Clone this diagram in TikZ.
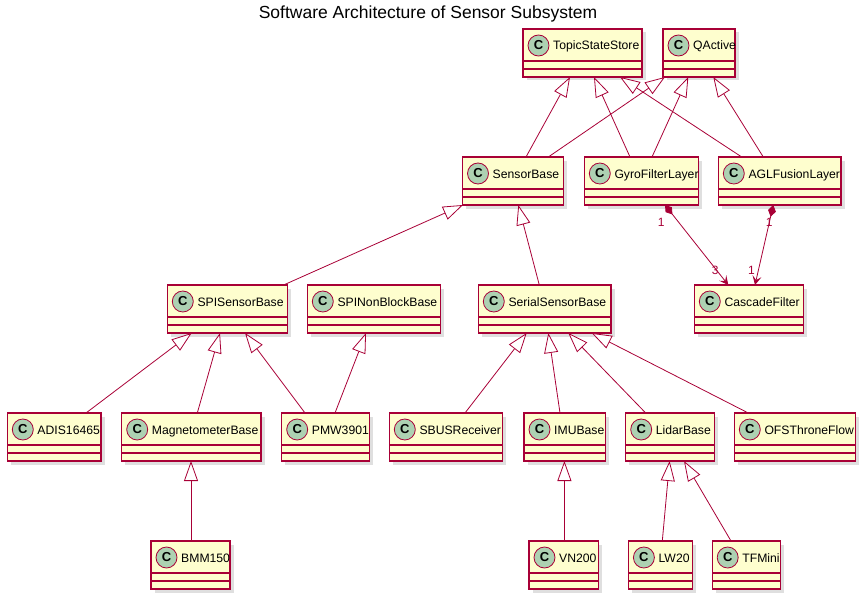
\documentclass[tikz,border=0pt]{standalone}
\usepackage{fontspec}
\setmainfont{Liberation Sans}
\usetikzlibrary{arrows.meta,shadows}
\definecolor{umlborder}{HTML}{A80036}
\definecolor{umlfill}{HTML}{FEFECE}
\definecolor{umlspot}{HTML}{ADD1B2}
\begin{document}
\begin{tikzpicture}
  [x=1pt,y=1pt,
   cls/.style={rectangle,draw=umlborder,fill=umlfill,line width=1.1pt,
               inner sep=0,outer sep=0,minimum height=48pt,anchor=north west,
               drop shadow={shadow xshift=3.5pt,shadow yshift=-3.5pt,fill=black!25,opacity=0.5},
               path picture={
                 \draw[umlborder,line width=1.1pt]
                   ([yshift=-32pt]path picture bounding box.north west) -- ([yshift=-32pt]path picture bounding box.north east)
                   ([yshift=-40pt]path picture bounding box.north west) -- ([yshift=-40pt]path picture bounding box.north east);
                 \node[spot] at ([xshift=15.5pt,yshift=-16.5pt]path picture bounding box.north west) {C};},
               label={[clsname]north west:#1}},
   clsname/.style={anchor=base west,xshift=30pt,yshift=-21pt,inner sep=0,font=\fontsize{12.2}{14}\selectfont},
   spot/.style={circle,anchor=center,draw=umlborder,fill=umlspot,line width=0.8pt,minimum size=21pt,inner sep=0,
                font=\fontsize{13}{14}\bfseries},
   extends/.style={umlborder,line width=0.8pt,-{Triangle[length=20pt,width=14pt,fill=white]}},
   composes/.style={umlborder,line width=0.8pt,{Diamond[length=12pt,width=8pt]}-{Stealth[length=9pt,width=9pt,inset=4pt]}},
   mult/.style={inner sep=0,font=\fontsize{12}{14}\selectfont},
   heading/.style={anchor=base,inner sep=0,font=\fontsize{17.5}{20}\selectfont}]
  \useasboundingbox (0,0) rectangle (868,-602);
  \node[heading] (title) at (428,-19) {Software Architecture of Sensor Subsystem};
  % top layer
  \node[cls=TopicStateStore,minimum width=119pt] (topicstatestore) at (523,-29) {};
  \node[cls=QActive,minimum width=72pt] (qactive) at (663,-29) {};
  \node[cls=SensorBase,minimum width=101pt] (sensorbase) at (462.5,-157) {};
  \node[cls=GyroFilterLayer,minimum width=114pt] (gyrofilterlayer) at (584.3,-157) {};
  \node[cls=AGLFusionLayer,minimum width=122.7pt] (aglfusionlayer) at (718.3,-157) {};
  % bases
  \node[cls=SPISensorBase,minimum width=120pt] (spisensorbase) at (167.3,-285) {};
  \node[cls=SPINonBlockBase,minimum width=133.4pt] (spinonblockbase) at (307.3,-285) {};
  \node[cls=SerialSensorBase,minimum width=132.7pt] (serialsensorbase) at (478.3,-285) {};
  \node[cls=CascadeFilter,minimum width=109pt] (cascadefilter) at (694.3,-285) {};
  % sensors
  \node[cls=ADIS16465,minimum width=93.7pt] (adis16465) at (7.3,-413) {};
  \node[cls=MagnetometerBase,minimum width=139.3pt] (magnetometerbase) at (121.7,-413) {};
  \node[cls=PMW3901,minimum width=87.6pt] (pmw3901) at (281.7,-413) {};
  \node[cls=SBUSReceiver,minimum width=113.4pt] (sbusreceiver) at (389.3,-413) {};
  \node[cls=IMUBase,minimum width=81.7pt] (imubase) at (524,-413) {};
  \node[cls=LidarBase,minimum width=88.6pt] (lidarbase) at (625.7,-413) {};
  \node[cls=OFSThroneFlow,minimum width=121.4pt] (ofsthroneflow) at (734.3,-413) {};
  \node[cls=BMM150,minimum width=79pt] (bmm150) at (151,-541) {};
  \node[cls=VN200,minimum width=69.3pt] (vn200) at (529,-541) {};
  \node[cls=LW20,minimum width=64pt] (lw20) at (628.4,-541) {};
  \node[cls=TFMini,minimum width=68.4pt] (tfmini) at (712.2,-541) {};

  \draw[extends] ([xshift=63.5pt]sensorbase.north west) -- ([xshift=47pt]topicstatestore.south west);
  \draw[extends] ([xshift=85.8pt]sensorbase.north west) -- ([xshift=2pt]qactive.south west);
  \draw[extends] ([xshift=45.7pt]gyrofilterlayer.north west) -- ([xshift=71pt]topicstatestore.south west);
  \draw[extends] ([xshift=67.7pt]gyrofilterlayer.north west) -- ([xshift=25.3pt]qactive.south west);
  \draw[extends] ([xshift=23.4pt]aglfusionlayer.north west) -- ([xshift=97pt]topicstatestore.south west);
  \draw[extends] ([xshift=45pt]aglfusionlayer.north west) -- ([xshift=50.3pt]qactive.south west);
  \draw[extends] ([xshift=116.3pt]spisensorbase.north west) -- ([xshift=0.5pt]sensorbase.south west);
  \draw[extends] ([xshift=61pt]serialsensorbase.north west) -- ([xshift=55.8pt]sensorbase.south west);
  \draw[composes] ([xshift=80.7pt]gyrofilterlayer.south west) -- node[mult,pos=0.22,left=14pt]{1}
    node[mult,pos=0.82,anchor=east,xshift=2pt]{3} ([xshift=34pt]cascadefilter.north west);
  \draw[composes] ([xshift=55pt]aglfusionlayer.south west) -- node[mult,pos=0.22]{1}
    node[mult,pos=0.82,left=3pt]{1} ([xshift=60.7pt]cascadefilter.north west);
  \draw[extends] ([xshift=78.7pt]adis16465.north west) -- ([xshift=24.4pt]spisensorbase.south west);
  \draw[extends] ([xshift=75.6pt]magnetometerbase.north west) -- ([xshift=52.7pt]spisensorbase.south west);
  \draw[extends] ([xshift=23.3pt]pmw3901.north west) -- ([xshift=77.7pt]spisensorbase.south west);
  \draw[extends] ([xshift=53.3pt]pmw3901.north west) -- ([xshift=58.7pt]spinonblockbase.south west);
  \draw[extends] ([xshift=75.7pt]sbusreceiver.north west) -- ([xshift=48.4pt]serialsensorbase.south west);
  \draw[extends] ([xshift=36pt]imubase.north west) -- ([xshift=70pt]serialsensorbase.south west);
  \draw[extends] ([xshift=20pt]lidarbase.north west) -- ([xshift=90pt]serialsensorbase.south west);
  \draw[extends] ([xshift=14pt]ofsthroneflow.north west) -- ([xshift=113.4pt]serialsensorbase.south west);
  \draw[extends] ([xshift=40pt]bmm150.north west) -- ([xshift=69.3pt]magnetometerbase.south west);
  \draw[extends] ([xshift=35.4pt]vn200.north west) -- ([xshift=40.4pt]imubase.south west);
  \draw[extends] ([xshift=33.9pt]lw20.north west) -- ([xshift=43.9pt]lidarbase.south west);
  \draw[extends] ([xshift=18.8pt]tfmini.north west) -- ([xshift=58.3pt]lidarbase.south west);
\end{tikzpicture}
\end{document}
